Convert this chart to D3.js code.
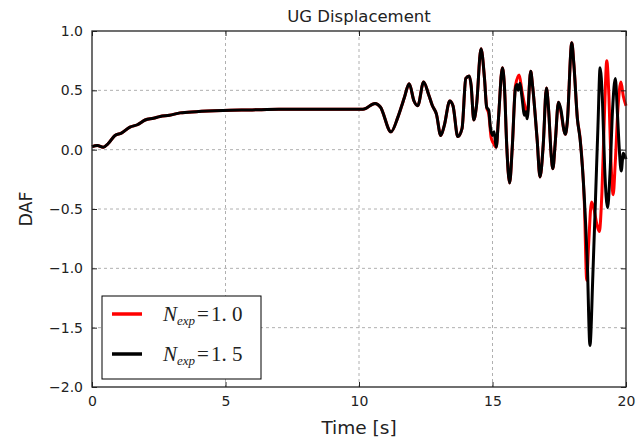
<!DOCTYPE html>
<html>
<head>
<meta charset="utf-8">
<title>UG Displacement</title>
<script src="https://d3js.org/d3.v7.min.js"></script>
<style>
  body { margin: 0; background: #fff; }
  text { font-family: "DejaVu Sans", sans-serif; fill: #222; }
  .grid line { stroke: #b0b0b0; stroke-dasharray: 3,3; stroke-width: 1; }
  .series { fill: none; stroke-width: 3; stroke-linejoin: round; }
</style>
</head>
<body>
<svg width="643" height="440"></svg>
<script>
// shared part of both runs (curves coincide up to ~14.8 s)
var timeShared = [0, 0.2, 0.42, 0.6, 0.86, 1.1, 1.42, 1.7, 1.99, 2.3, 2.55, 2.9, 3.3, 3.9, 4.9, 6, 7, 10.15,
  10.6, 10.8, 11.2, 11.45, 11.6, 11.7, 11.88, 12.06, 12.2, 12.42, 12.6, 12.75, 12.9, 13.06, 13.19, 13.4,
  13.52, 13.7, 13.86, 14.0, 14.13, 14.2, 14.3, 14.4, 14.57, 14.7, 14.78];
var dafShared = [0.025, 0.035, 0.02, 0.05, 0.12, 0.14, 0.19, 0.21, 0.25, 0.265, 0.28, 0.29, 0.31, 0.32, 0.33, 0.335, 0.34, 0.34,
  0.39, 0.36, 0.15, 0.27, 0.37, 0.44, 0.555, 0.41, 0.37, 0.57, 0.47, 0.37, 0.30, 0.12, 0.2, 0.41,
  0.37, 0.11, 0.18, 0.6, 0.62, 0.54, 0.25, 0.37, 0.85, 0.6, 0.36];

// N_exp = 1.0 (red) after 14.8 s
var timeRed = [14.86, 14.95, 15.02, 15.14, 15.22, 15.37, 15.45, 15.53, 15.64, 15.74, 15.86, 16.0, 16.1, 16.2, 16.3,
  16.43, 16.5, 16.67, 16.78, 16.9, 17.02, 17.1, 17.2, 17.26, 17.35, 17.47, 17.56, 17.68, 17.73, 17.8, 17.97,
  18.05, 18.18, 18.28, 18.44, 18.53, 18.6, 18.71, 18.8, 18.9, 19.0, 19.1, 19.2, 19.28, 19.36, 19.43, 19.52,
  19.6, 19.7, 19.81, 19.9, 20];
var dafRed = [0.3, 0.1, 0.06, 0.02, 0.25, 0.69, 0.52, 0.05, -0.28, 0.02, 0.54, 0.63, 0.5, 0.38, 0.3,
  0.66, 0.54, 0.09, -0.23, 0.04, 0.52, 0.34, -0.05, -0.16, 0.06, 0.40, 0.32, 0.16, 0.13, 0.23, 0.90,
  0.71, 0.26, 0.1, -0.45, -1.10, -0.8, -0.44, -0.5, -0.62, -0.69, -0.35, 0.35, 0.75, 0.45, -0.05, -0.38,
  -0.1, 0.35, 0.57, 0.45, 0.37];

// N_exp = 1.5 (black) after 14.8 s
var timeBlack = [14.86, 14.92, 15.0, 15.06, 15.14, 15.22, 15.37, 15.45, 15.53, 15.64, 15.74, 15.86, 15.92, 15.96,
  16.03, 16.1, 16.2, 16.25, 16.3, 16.43, 16.5, 16.67, 16.78, 16.9, 17.02, 17.1, 17.2, 17.26, 17.35, 17.47,
  17.56, 17.68, 17.73, 17.8, 17.97, 18.05, 18.18, 18.28, 18.44, 18.55, 18.65, 18.76, 18.86, 18.95, 19.03,
  19.12, 19.2, 19.31, 19.4, 19.5, 19.6, 19.68, 19.75, 19.82, 19.9, 20];
var dafBlack = [0.33, 0.19, 0.12, 0.15, 0.02, 0.25, 0.69, 0.52, 0.05, -0.28, 0.02, 0.52, 0.55, 0.5,
  0.56, 0.45, 0.29, 0.32, 0.26, 0.66, 0.54, 0.09, -0.23, 0.04, 0.52, 0.34, -0.05, -0.16, 0.06, 0.40,
  0.34, 0.16, 0.13, 0.23, 0.90, 0.71, 0.26, 0.09, -0.41, -0.95, -1.65, -1.05, -0.4, 0.2, 0.69,
  0.4, -0.15, -0.49, -0.2, 0.35, 0.6, 0.3, 0.0, -0.18, -0.03, -0.08];

var xTicks = [0, 5, 10, 15, 20];
var yTicks = [1.0, 0.5, 0.0, -0.5, -1.0, -1.5, -2.0];
var seriesNames = ["1.0", "1.5"];
var seriesColors = ["#ff0000", "#000000"];

var margin = {left: 92, top: 31, right: 17, bottom: 53};
var svg = d3.select("svg");
var W = +svg.attr("width") - margin.left - margin.right;
var H = +svg.attr("height") - margin.top - margin.bottom;

var x = d3.scaleLinear().domain([0, 20]).range([0, W]);
var y = d3.scaleLinear().domain([-2, 1]).range([H, 0]);

var g = svg.append("g").attr("transform", "translate(" + margin.left + "," + margin.top + ")");

// grid
var grid = g.append("g").attr("class", "grid");
grid.selectAll("line.gx").data(xTicks.slice(1, -1)).enter().append("line")
  .attr("x1", function(d) { return x(d); }).attr("x2", function(d) { return x(d); })
  .attr("y1", 0).attr("y2", H);
grid.selectAll("line.gy").data(yTicks.slice(1, -1)).enter().append("line")
  .attr("y1", function(d) { return y(d); }).attr("y2", function(d) { return y(d); })
  .attr("x1", 0).attr("x2", W);

// series
function pts(t, v) { return t.map(function(d, i) { return [d, v[i]]; }); }
var redData = pts(timeShared, dafShared).concat(pts(timeRed, dafRed));
var blackData = pts(timeShared, dafShared).concat(pts(timeBlack, dafBlack));

var line = d3.line()
  .x(function(d) { return x(d[0]); })
  .y(function(d) { return y(d[1]); })
  .curve(d3.curveMonotoneX);

g.append("path").datum(redData).attr("class", "series").attr("stroke", seriesColors[0]).attr("d", line);
g.append("path").datum(blackData).attr("class", "series").attr("stroke", seriesColors[1]).attr("d", line);

// axes with inward ticks on all sides
function fmt(d) { return d3.format(".1f")(d).replace("-", "\u2212"); }
var axB = g.append("g").attr("transform", "translate(0," + H + ")")
  .call(d3.axisBottom(x).tickValues(xTicks).tickSize(-5).tickPadding(9).tickFormat(d3.format("d")));
var axT = g.append("g").call(d3.axisTop(x).tickValues(xTicks).tickSize(-5).tickFormat(""));
var axL = g.append("g")
  .call(d3.axisLeft(y).tickValues(yTicks).tickSize(-5).tickPadding(9).tickFormat(fmt));
var axR = g.append("g").attr("transform", "translate(" + W + ",0)")
  .call(d3.axisRight(y).tickValues(yTicks).tickSize(-5).tickFormat(""));
[axB, axT, axL, axR].forEach(function(a) {
  a.select(".domain").remove();
  a.selectAll(".tick line").attr("stroke", "#222");
  a.selectAll("text").style("font-family", "DejaVu Sans").style("font-size", "14px").attr("fill", "#222");
});

g.append("rect").attr("width", W).attr("height", H)
  .attr("fill", "none").attr("stroke", "#222").attr("stroke-width", 1.3);

// labels
svg.append("text").attr("x", margin.left + W / 2).attr("y", 22)
  .attr("text-anchor", "middle").style("font-size", "16.5px").text("UG Displacement");
svg.append("text").attr("x", margin.left + W / 2).attr("y", 434)
  .attr("text-anchor", "middle").style("font-size", "18.5px").text("Time [s]");
svg.append("text").attr("transform", "translate(32," + (margin.top + H / 2) + ") rotate(-90)")
  .attr("text-anchor", "middle").style("font-size", "17.5px").text("DAF");

// legend
var leg = svg.append("g").attr("transform", "translate(102,296)");
leg.append("rect").attr("width", 159).attr("height", 83)
  .attr("fill", "#fff").attr("stroke", "#000").attr("stroke-width", 1);
seriesNames.forEach(function(name, i) {
  var yy = 18 + i * 40;
  leg.append("line").attr("x1", 10).attr("x2", 40).attr("y1", yy).attr("y2", yy)
    .attr("stroke", seriesColors[i]).attr("stroke-width", 3.5);
  var t = leg.append("text").attr("x", 61).attr("y", yy + 7)
    .style("font-family", "'Liberation Serif', 'DejaVu Serif', serif").style("font-size", "21px");
  t.append("tspan").style("font-style", "italic").text("N");
  t.append("tspan").style("font-style", "italic").style("font-size", "13px").attr("dy", 4).text("exp");
  t.append("tspan").attr("dy", -4).attr("dx", 2).text("=");
  t.append("tspan").attr("dx", 2).text(name.replace(".", ". "));
});
</script>
</body>
</html>
